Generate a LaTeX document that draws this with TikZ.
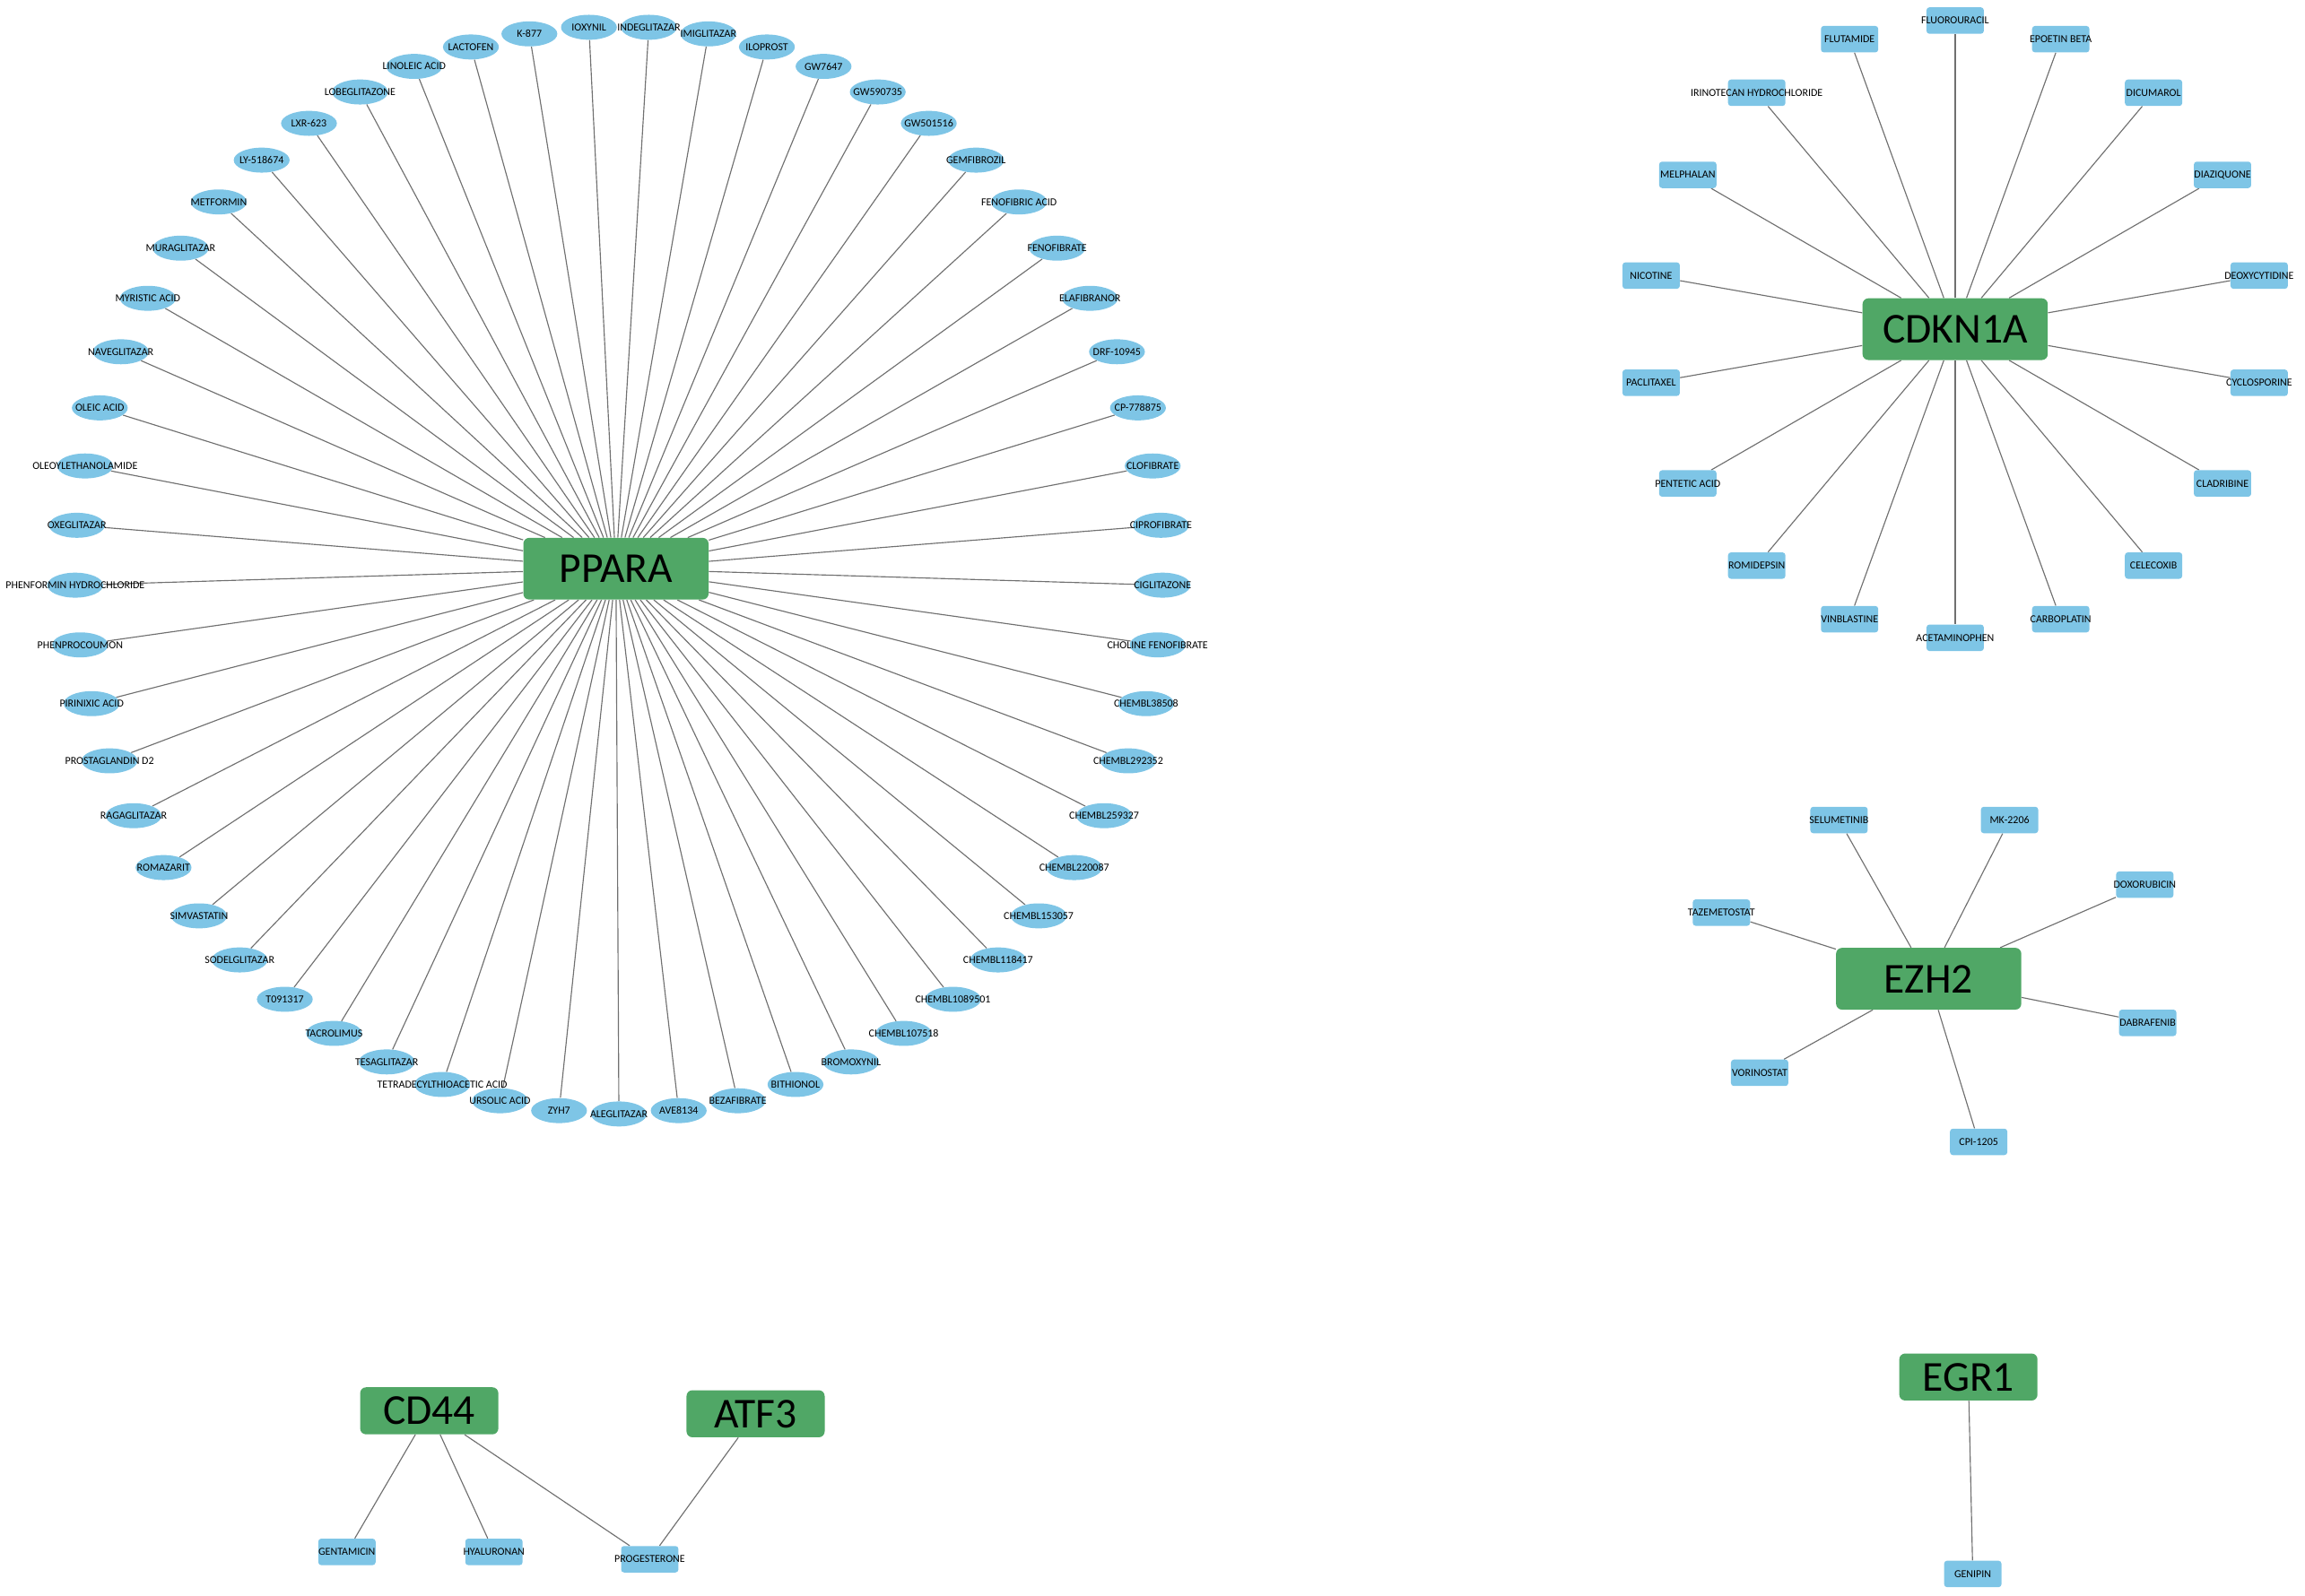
\documentclass[tikz,border=0pt]{standalone}
\usepackage{fontspec}
\setmainfont{Carlito}
\usetikzlibrary{shapes.geometric,backgrounds}
\definecolor{genegreen}{RGB}{80,167,102}
\definecolor{drugblue}{RGB}{126,197,230}
\definecolor{linkgray}{RGB}{112,112,112}
\newcommand{\drugname}[1]{\makebox[0pt]{#1}}
\tikzset{
  gene/.style={rectangle,rounded corners=4pt,fill=genegreen,minimum width=126pt,minimum height=42pt,inner sep=0pt,font=\fontsize{29}{30}\selectfont},
  genesmall/.style={gene,minimum width=94pt,minimum height=32pt},
  ligand/.style={ellipse,fill=drugblue,minimum width=38pt,minimum height=17pt,inner sep=0pt,font=\fontsize{7.3}{8}\selectfont},
  drugbox/.style={rectangle,rounded corners=2pt,fill=drugblue,minimum width=39pt,minimum height=18pt,inner sep=0pt,font=\fontsize{7.3}{8}\selectfont},
  link/.style={draw=linkgray,line width=0.7pt}
}
\begin{document}
\begin{tikzpicture}[x=1pt,y=1pt]
        \useasboundingbox (0,0) rectangle (1568,1086);
        % hubs
        \node[gene] (ppara) at (419,699) {PPARA};
        \node[gene] (cdkn1a) at (1330,862) {CDKN1A};
        \node[gene] (ezh2) at (1312,420) {EZH2};
        \node[genesmall] (cd44) at (292,126) {CD44};
        \node[genesmall] (atf3) at (514,124) {ATF3};
        \node[genesmall] (egr1) at (1339,149) {EGR1};
        % PPARA ring
        \coordinate (ring) at (421,698);
        \foreach \dname [count=\i from 0] in {ALEGLITAZAR, AVE8134, BEZAFIBRATE, BITHIONOL, BROMOXYNIL,
            CHEMBL107518, CHEMBL1089501, CHEMBL118417, CHEMBL153057, CHEMBL220087, CHEMBL259327,
            CHEMBL292352, CHEMBL38508, CHOLINE FENOFIBRATE, CIGLITAZONE, CIPROFIBRATE, CLOFIBRATE,
            CP-778875, DRF-10945, ELAFIBRANOR, FENOFIBRATE, FENOFIBRIC ACID, GEMFIBROZIL, GW501516,
            GW590735, GW7647, ILOPROST, IMIGLITAZAR, INDEGLITAZAR, IOXYNIL, K-877, LACTOFEN,
            LINOLEIC ACID, LOBEGLITAZONE, LXR-623, LY-518674, METFORMIN, MURAGLITAZAR, MYRISTIC ACID,
            NAVEGLITAZAR, OLEIC ACID, OLEOYLETHANOLAMIDE, OXEGLITAZAR, PHENFORMIN HYDROCHLORIDE,
            PHENPROCOUMON, PIRINIXIC ACID, PROSTAGLANDIN D2, RAGAGLITAZAR, ROMAZARIT, SIMVASTATIN,
            SODELGLITAZAR, T091317, TACROLIMUS, TESAGLITAZAR, TETRADECYLTHIOACETIC ACID, URSOLIC ACID, ZYH7}
          \node[ligand] (lig\i) at ([shift={({-90+360/57*\i}:370pt)}]ring) {\drugname{\dname}};
        % CDKN1A ring
        \foreach \dname [count=\i from 0] in {ACETAMINOPHEN, CARBOPLATIN, CELECOXIB, CLADRIBINE,
            CYCLOSPORINE, DEOXYCYTIDINE, DIAZIQUONE, DICUMAROL, EPOETIN BETA, FLUOROURACIL, FLUTAMIDE,
            IRINOTECAN HYDROCHLORIDE, MELPHALAN, NICOTINE, PACLITAXEL, PENTETIC ACID, ROMIDEPSIN, VINBLASTINE}
          \node[drugbox] (cdk\i) at ([shift={({-90+20*\i}:210pt)}]cdkn1a) {\drugname{\dname}};
        % EZH2
        \node[drugbox] (selumetinib) at (1251,528) {\drugname{SELUMETINIB}};
        \node[drugbox] (mk2206) at (1367,528) {\drugname{MK-2206}};
        \node[drugbox] (doxorubicin) at (1459,484) {\drugname{DOXORUBICIN}};
        \node[drugbox] (tazemetostat) at (1171,465) {\drugname{TAZEMETOSTAT}};
        \node[drugbox] (dabrafenib) at (1461,390) {\drugname{DABRAFENIB}};
        \node[drugbox] (vorinostat) at (1197,356) {\drugname{VORINOSTAT}};
        \node[drugbox] (cpi1205) at (1346,309) {\drugname{CPI-1205}};
        % CD44, ATF3, EGR1
        \node[drugbox] (gentamicin) at (236,30) {\drugname{GENTAMICIN}};
        \node[drugbox] (hyaluronan) at (336,30) {\drugname{HYALURONAN}};
        \node[drugbox] (progesterone) at (442,25) {\drugname{PROGESTERONE}};
        \node[drugbox] (genipin) at (1342,15) {\drugname{GENIPIN}};
        \begin{pgfonlayer}{background}
          \foreach \i in {0,...,56} \draw[link] (ppara) -- (lig\i);
          \foreach \i in {0,...,17} \draw[link] (cdkn1a) -- (cdk\i);
          \foreach \d in {selumetinib,mk2206,doxorubicin,tazemetostat,dabrafenib,vorinostat,cpi1205}
            \draw[link] (ezh2) -- (\d);
          \draw[link] (cd44) -- (gentamicin);
          \draw[link] (cd44) -- (hyaluronan);
          \draw[link] (cd44) -- (progesterone);
          \draw[link] (atf3) -- (progesterone);
          \draw[link] (egr1) -- (genipin);
        \end{pgfonlayer}
      \end{tikzpicture}
\end{document}
